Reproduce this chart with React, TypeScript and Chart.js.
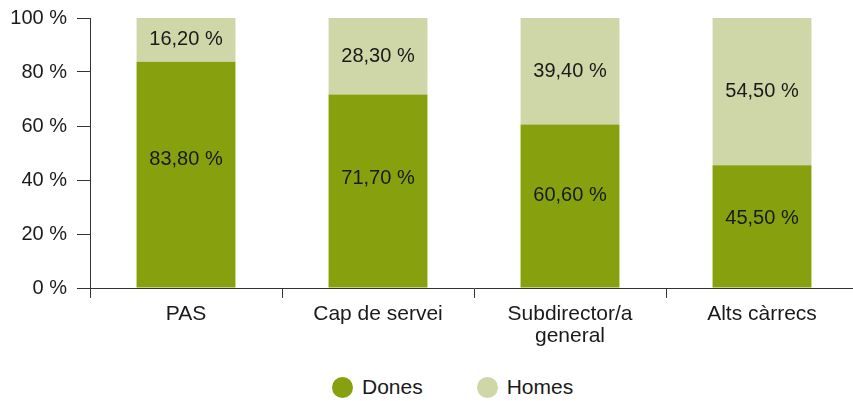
import React, { useEffect, useRef } from "react";
import { Chart, registerables } from "chart.js";

Chart.register(...registerables);

const categories: (string | string[])[] = ["PAS", "Cap de servei", ["Subdirector/a", "general"], "Alts càrrecs"];
const seriesNames = ["Dones", "Homes"];
const dones = [83.8, 71.7, 60.6, 45.5];
const homes = [16.2, 28.3, 39.4, 54.5];
const yTicks = [0, 20, 40, 60, 80, 100];
const seriesColors = ["#87a00e", "#cfd7a8"];

const FONT = "'Liberation Sans', Arial, Helvetica, sans-serif";
const TEXT = "#1a1a1a";

const fmt = (v: number) => v.toFixed(2).replace(".", ",") + " %";

const labelPlugin = {
  id: "segLabels",
  afterDatasetsDraw(chart: any) {
    const ctx = chart.ctx;
    ctx.save();
    ctx.font = `20px ${FONT}`;
    ctx.fillStyle = TEXT;
    ctx.textAlign = "center";
    ctx.textBaseline = "middle";
    chart.data.datasets.forEach((ds: any, di: number) => {
      const meta = chart.getDatasetMeta(di);
      meta.data.forEach((el: any, i: number) => {
        const { x, y, base } = el.getProps(["x", "y", "base"], true);
        const frac = di === 0 ? 0.565 : 0.5;
        const ly = base - (base - y) * frac;
        ctx.fillText(fmt(ds.data[i]), x, ly);
      });
    });
    ctx.restore();
  },
};

export default function App() {
  const ref = useRef<HTMLCanvasElement>(null);

  useEffect(() => {
    const canvas = ref.current!;
    const chart = new Chart(canvas, {
      type: "bar",
      data: {
        labels: categories as any,
        datasets: [
          { label: seriesNames[0], data: dones, backgroundColor: seriesColors[0], categoryPercentage: 1, barPercentage: 0.515 },
          { label: seriesNames[1], data: homes, backgroundColor: seriesColors[1], categoryPercentage: 1, barPercentage: 0.515 },
        ],
      },
      options: {
        responsive: false,
        animation: false,
        devicePixelRatio: 1,
        layout: { padding: { top: 10, left: 0, right: 0, bottom: 0 } },
        plugins: { legend: { display: false }, tooltip: { enabled: false } },
        scales: {
          x: {
            stacked: true,
            afterFit: (s: any) => { s.height = 62; },
            grid: { offset: true, drawOnChartArea: false, drawTicks: true, tickLength: 10, color: "#333", lineWidth: 1 },
            border: { display: true, color: "#333", width: 1 },
            ticks: { color: TEXT, font: { family: FONT, size: 21, lineHeight: 1.05 }, padding: 5, maxRotation: 0, autoSkip: false },
          },
          y: {
            stacked: true,
            min: 0,
            max: 100,
            afterFit: (s: any) => { s.width = 90; },
            afterBuildTicks: (s: any) => { s.ticks = yTicks.map((v) => ({ value: v })); },
            grid: { drawOnChartArea: false, drawTicks: true, tickLength: 13, color: "#333", lineWidth: 1 },
            border: { display: true, color: "#333", width: 1 },
            ticks: { color: TEXT, font: { family: FONT, size: 20, lineHeight: 0.8 }, padding: 10, callback: (v: any) => v + " %" },
          },
        },
      },
      plugins: [labelPlugin],
    });
    return () => chart.destroy();
  }, []);

  return (
    <div style={{ position: "absolute", left: 0, top: 0, width: 853, height: 401, overflow: "hidden", background: "#fff" }}>
      <canvas ref={ref} width={858} height={350} style={{ width: 858, height: 350, display: "block" }} />
      <div style={{ position: "absolute", left: 332, top: 376, display: "flex", alignItems: "center", fontFamily: FONT, fontSize: 21, color: TEXT, lineHeight: "22px" }}>
        {seriesNames.map((n, i) => (
          <div key={n} style={{ display: "flex", alignItems: "center", marginRight: i === 0 ? 54 : 0 }}>
            <span style={{ width: 21, height: 21, borderRadius: "50%", background: seriesColors[i], display: "inline-block", marginRight: 9 }} />
            <span>{n}</span>
          </div>
        ))}
      </div>
    </div>
  );
}
